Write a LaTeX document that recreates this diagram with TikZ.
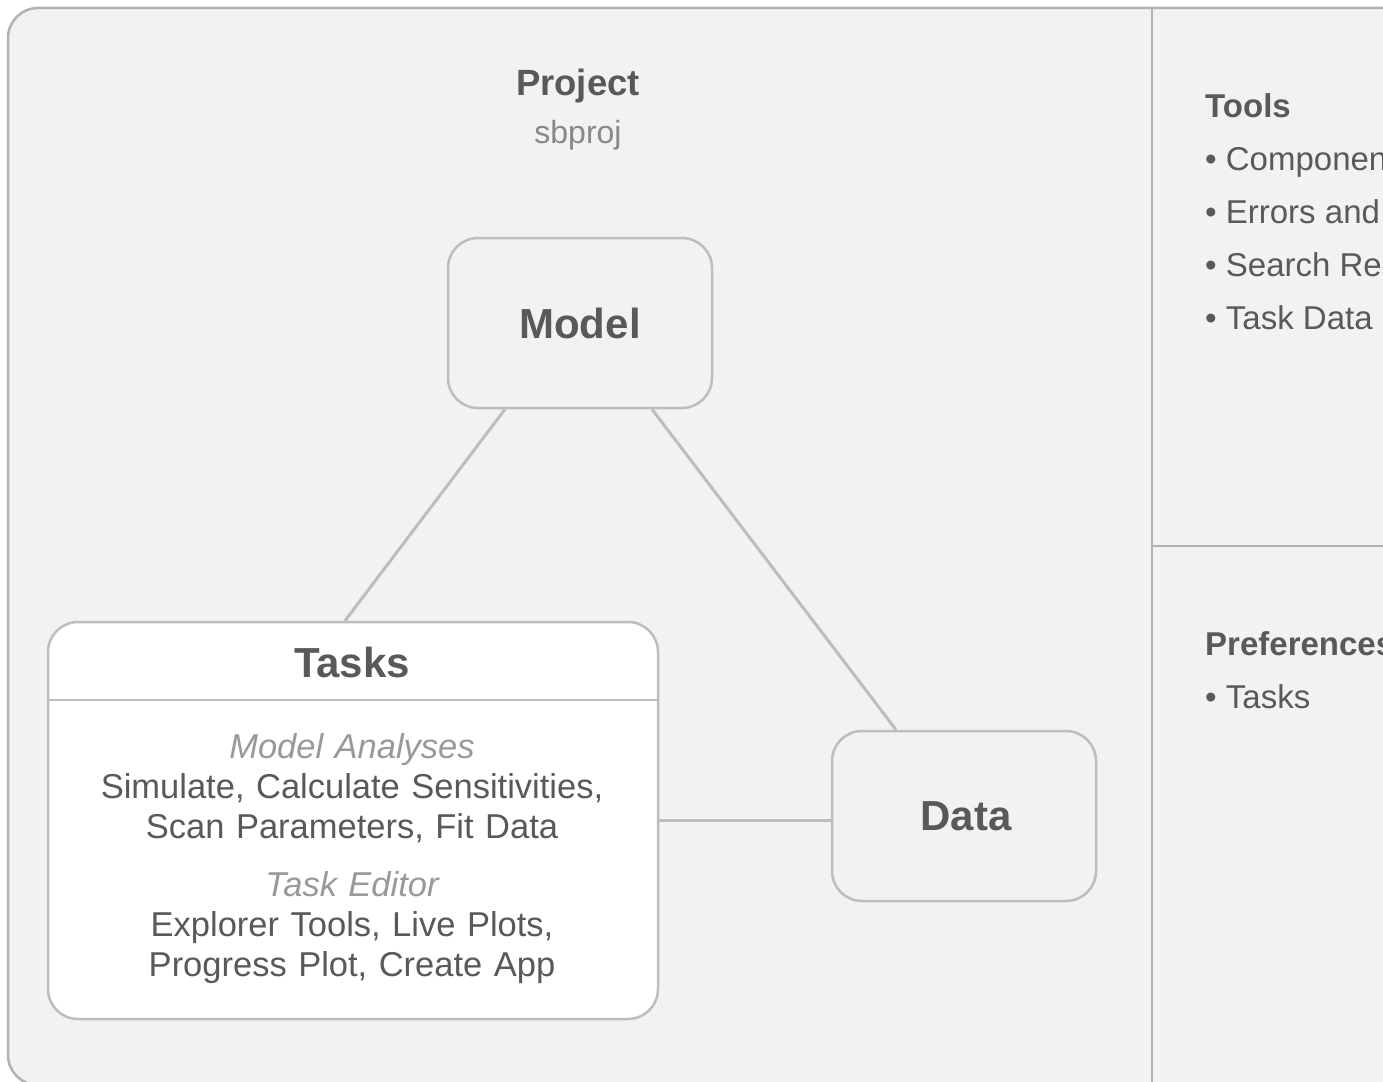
\documentclass[tikz,border=0pt]{standalone}
\usepackage{fontspec}
\setmainfont{Liberation Sans}
\definecolor{canvasGray}{HTML}{F2F2F2}
\definecolor{frameGray}{HTML}{B2B2B2}
\definecolor{boxGray}{HTML}{BDBDBD}
\definecolor{inkGray}{HTML}{595959}
\definecolor{noteGray}{HTML}{999999}
\definecolor{subGray}{HTML}{888888}

\begin{document}
\begin{tikzpicture}[x=1pt, y=-1pt,
    every node/.style={text=inkGray, inner sep=0pt},
    frame line/.style={draw=frameGray, line width=2.5pt},
    card/.style={draw=boxGray, line width=2.5pt, rounded corners=30pt, fill=canvasGray},
    object card/.style={card, minimum width=264pt, minimum height=170pt, font=\fontsize{42}{48}\selectfont\bfseries},
    list card/.style={card, fill=white, minimum width=610pt, minimum height=397pt},
    head title/.style={font=\fontsize{36.5}{40}\selectfont\bfseries},
    side title/.style={font=\fontsize{33}{38}\selectfont\bfseries, anchor=base west},
    side item/.style={font=\fontsize{33}{38}\selectfont, anchor=base west},
    body text/.style={font=\fontsize{34.5}{40}\selectfont, text width=600pt, align=center, anchor=base},
    link/.style={draw=boxGray, line width=3pt}
  ]
    \useasboundingbox (0,0) rectangle (1383,1081);
    \clip (0,0) rectangle (1383,1081);
    \fill[white] (0,0) rectangle (1383,1081);

    % Project frame with the side panel
    \draw[frame line, fill=canvasGray, rounded corners=30pt] (8,8) rectangle (1420,1085);
    \draw[frame line] (1152,8) -- (1152,1085);
    \draw[frame line] (1152,546) -- (1400,546);

    \node[head title, anchor=base] (projectTitle) at (578,95) {Project};
    \node[text=subGray, font=\fontsize{32}{36}\selectfont, anchor=base] (projectExt) at (578,143) {sbproj};

    % The three parts of a project
    \node[object card] (model) at (580,323) {Model};
    \node[object card] (data) at (964,816) {\hspace*{4pt}Data};
    \node[list card] (tasksBox) at (353,820.5) {};
    \draw[draw=boxGray, line width=2.5pt] (tasksBox.west |- 0,700) -- (tasksBox.east |- 0,700);
    \node[font=\fontsize{42}{48}\selectfont\bfseries, anchor=base] (tasksTitle) at (352,677) {Tasks};
    \node[body text] (tasksBody) at (352,758) {{\color{noteGray}\itshape Model Analyses}\\
      Simulate, Calculate Sensitivities,\\
      Scan Parameters, Fit Data\\[18pt]
      {\color{noteGray}\itshape Task Editor}\\
      Explorer Tools, Live Plots,\\
      Progress Plot, Create App};

    \draw[link] ([xshift=-75pt]model.south) -- ([xshift=-8pt]tasksBox.north);
    \draw[link] ([xshift=72pt]model.south) -- ([xshift=-68pt]data.north);
    \draw[link] (tasksBox.east) -- (tasksBox.east -| data.west);

    % Side panel lists
    \node[side title] (toolsTitle) at (1205,117) {Tools};
    \node[side item] (toolComponents) at (1205,170) {• Components};
    \node[side item] (toolErrors) at (1205,223) {• Errors and Warnings};
    \node[side item] (toolSearch) at (1205,276) {• Search Results};
    \node[side item] (toolTaskData) at (1205,329) {• Task Data};
    \node[side title] (prefsTitle) at (1205,655) {Preferences};
    \node[side item] (prefTasks) at (1205,708) {• Tasks};
  \end{tikzpicture}
\end{document}
